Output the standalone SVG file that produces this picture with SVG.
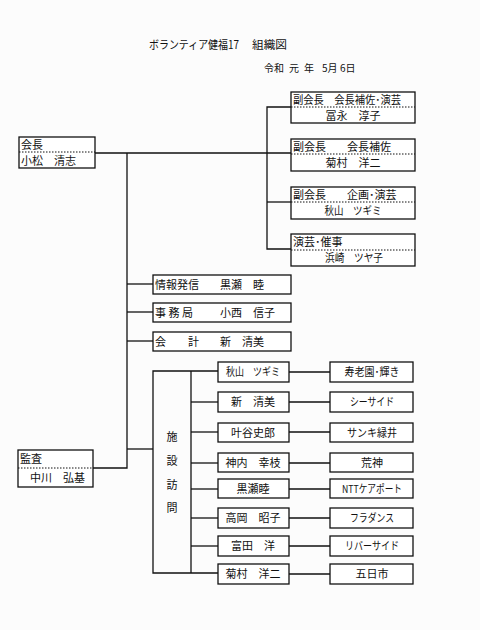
<svg xmlns="http://www.w3.org/2000/svg" width="480" height="630" viewBox="0 0 480 630">
<style>
text{font-family:"Noto Sans CJK JP","Liberation Sans",sans-serif;font-size:11px;fill:#111}
.b{fill:#fff;stroke:#111;stroke-width:1.3}
.d{stroke:#111;stroke-width:1;stroke-dasharray:1.5 1.5}
.c{fill:none;stroke:#111;stroke-width:1.3}
.m{text-anchor:middle}
.t{font-size:11.5px}
.dt{font-size:10px}
</style>
<rect width="480" height="630" fill="#fcfcfc"/>
<g id="title"><text class="t" x="149" y="49" textLength="90" lengthAdjust="spacingAndGlyphs">ボランティア健福17</text><text class="t" x="252" y="49" textLength="35" lengthAdjust="spacingAndGlyphs">組織図</text></g>
<g id="date"><text class="dt" x="264" y="72">令和</text><text class="dt" x="289" y="72">元</text><text class="dt" x="304" y="72">年</text><text class="dt" x="322" y="72">5月</text><text class="dt" x="340" y="72">6日</text></g>
<g id="connectors">
<polyline class="c" points="95,153 291,153"/>
<polyline class="c" points="127,153 127,468 93,468"/>
<polyline class="c" points="291,107 267,107 267,249 291,249"/>
<polyline class="c" points="267,202 291,202"/>
<polyline class="c" points="127,284 153,284"/>
<polyline class="c" points="127,312 153,312"/>
<polyline class="c" points="127,341 153,341"/>
<polyline class="c" points="127,449 153,449"/>
<polyline class="c" points="218,371 153,371 153,573 218,573"/>
<polyline class="c" points="191,371 191,573"/>
<polyline class="c" points="191,402 218,402"/>
<polyline class="c" points="191,432 218,432"/>
<polyline class="c" points="191,463 218,463"/>
<polyline class="c" points="191,489 218,489"/>
<polyline class="c" points="191,518 218,518"/>
<polyline class="c" points="191,546 218,546"/>
<polyline class="c" points="289,372 330,372"/>
<polyline class="c" points="289,402 330,402"/>
<polyline class="c" points="289,432 330,432"/>
<polyline class="c" points="289,463 330,463"/>
<polyline class="c" points="289,489 330,489"/>
<polyline class="c" points="289,518 330,518"/>
<polyline class="c" points="289,546 330,546"/>
<polyline class="c" points="289,574 330,574"/>
</g>
<g id="kaicho"><rect class="b" x="19" y="137" width="76" height="31"/><line class="d" x1="19" y1="152" x2="95" y2="152"/><text x="21" y="148.5">会長</text><text x="21" y="164.5">小松　清志</text></g>
<g id="vp1"><rect class="b" x="291" y="92" width="124" height="31"/><line class="d" x1="291" y1="107" x2="415" y2="107"/><text x="293" y="103.5" textLength="108" lengthAdjust="spacingAndGlyphs">副会長　会長補佐･演芸</text><text class="m" x="353" y="119.5">冨永　淳子</text></g>
<g id="vp2"><rect class="b" x="291" y="139" width="124" height="32"/><line class="d" x1="291" y1="154" x2="415" y2="154"/><text x="293" y="150.5">副会長</text><text x="347" y="150.5">会長補佐</text><text class="m" x="353" y="166.5">菊村　洋二</text></g>
<g id="vp3"><rect class="b" x="291" y="187" width="124" height="32"/><line class="d" x1="291" y1="202" x2="415" y2="202"/><text x="293" y="198.5">副会長</text><text x="347" y="198.5">企画･演芸</text><text class="m" x="353" y="214.5" textLength="57" lengthAdjust="spacingAndGlyphs">秋山　ツギミ</text></g>
<g id="engei"><rect class="b" x="291" y="234" width="124" height="32"/><line class="d" x1="291" y1="250" x2="415" y2="250"/><text x="293" y="245.5">演芸･催事</text><text class="m" x="354" y="262" textLength="58" lengthAdjust="spacingAndGlyphs">浜崎　ツヤ子</text></g>
<g id="joho"><rect class="b" x="153" y="275" width="138" height="19"/><text x="155" y="288.5">情報発信</text><text x="220" y="288.5">黒瀬　睦</text></g>
<g id="jimu"><rect class="b" x="153" y="303" width="138" height="19"/><text x="155" y="316.5">事 務 局</text><text x="220" y="316.5">小西　信子</text></g>
<g id="kaikei"><rect class="b" x="153" y="332" width="138" height="19"/><text x="155" y="345.5">会</text><text x="188" y="345.5">計</text><text x="220" y="345.5">新　清美</text></g>
<g id="kansa"><rect class="b" x="18" y="450" width="75" height="37"/><line class="d" x1="18" y1="468" x2="93" y2="468"/><text x="20" y="463">監査</text><text x="30" y="482">中川　弘基</text></g>
<g id="shisetsu"><text class="m" x="172" y="441">施</text><text class="m" x="172" y="465">設</text><text class="m" x="172" y="489">訪</text><text class="m" x="172" y="512">問</text></g>
<g id="n1"><rect class="b" x="218" y="362" width="71" height="20"/><text class="m" x="253" y="376" textLength="54" lengthAdjust="spacingAndGlyphs">秋山　ツギミ</text></g>
<g id="n2"><rect class="b" x="218" y="392" width="71" height="20"/><text class="m" x="253" y="406">新　清美</text></g>
<g id="n3"><rect class="b" x="218" y="423" width="71" height="19"/><text class="m" x="253" y="436.5">叶谷史郎</text></g>
<g id="n4"><rect class="b" x="218" y="453" width="71" height="19"/><text class="m" x="253" y="466.5">神内　幸枝</text></g>
<g id="n5"><rect class="b" x="218" y="479" width="71" height="19"/><text class="m" x="253" y="492.5">黒瀬睦</text></g>
<g id="n6"><rect class="b" x="218" y="508" width="71" height="20"/><text class="m" x="253" y="522">高岡　昭子</text></g>
<g id="n7"><rect class="b" x="218" y="536" width="71" height="20"/><text class="m" x="253" y="550">富田　洋</text></g>
<g id="n8"><rect class="b" x="218" y="564" width="71" height="20"/><text class="m" x="253" y="578">菊村　洋二</text></g>
<g id="f1"><rect class="b" x="330" y="362" width="83" height="20"/><text class="m" x="372" y="376" textLength="55" lengthAdjust="spacingAndGlyphs">寿老園･輝き</text></g>
<g id="f2"><rect class="b" x="330" y="392" width="83" height="20"/><text class="m" x="372" y="406" textLength="44" lengthAdjust="spacingAndGlyphs">シーサイド</text></g>
<g id="f3"><rect class="b" x="330" y="423" width="83" height="19"/><text class="m" x="372" y="436.5" textLength="50" lengthAdjust="spacingAndGlyphs">サンキ緑井</text></g>
<g id="f4"><rect class="b" x="330" y="453" width="83" height="19"/><text class="m" x="372" y="466.5">荒神</text></g>
<g id="f5"><rect class="b" x="330" y="479" width="83" height="19"/><text class="m" x="372" y="492.5" textLength="60" lengthAdjust="spacingAndGlyphs">NTTケアポート</text></g>
<g id="f6"><rect class="b" x="330" y="508" width="83" height="20"/><text class="m" x="372" y="522" textLength="44" lengthAdjust="spacingAndGlyphs">フラダンス</text></g>
<g id="f7"><rect class="b" x="330" y="536" width="83" height="20"/><text class="m" x="372" y="550" textLength="54" lengthAdjust="spacingAndGlyphs">リバーサイド</text></g>
<g id="f8"><rect class="b" x="330" y="564" width="83" height="20"/><text class="m" x="372" y="578">五日市</text></g>
</svg>
